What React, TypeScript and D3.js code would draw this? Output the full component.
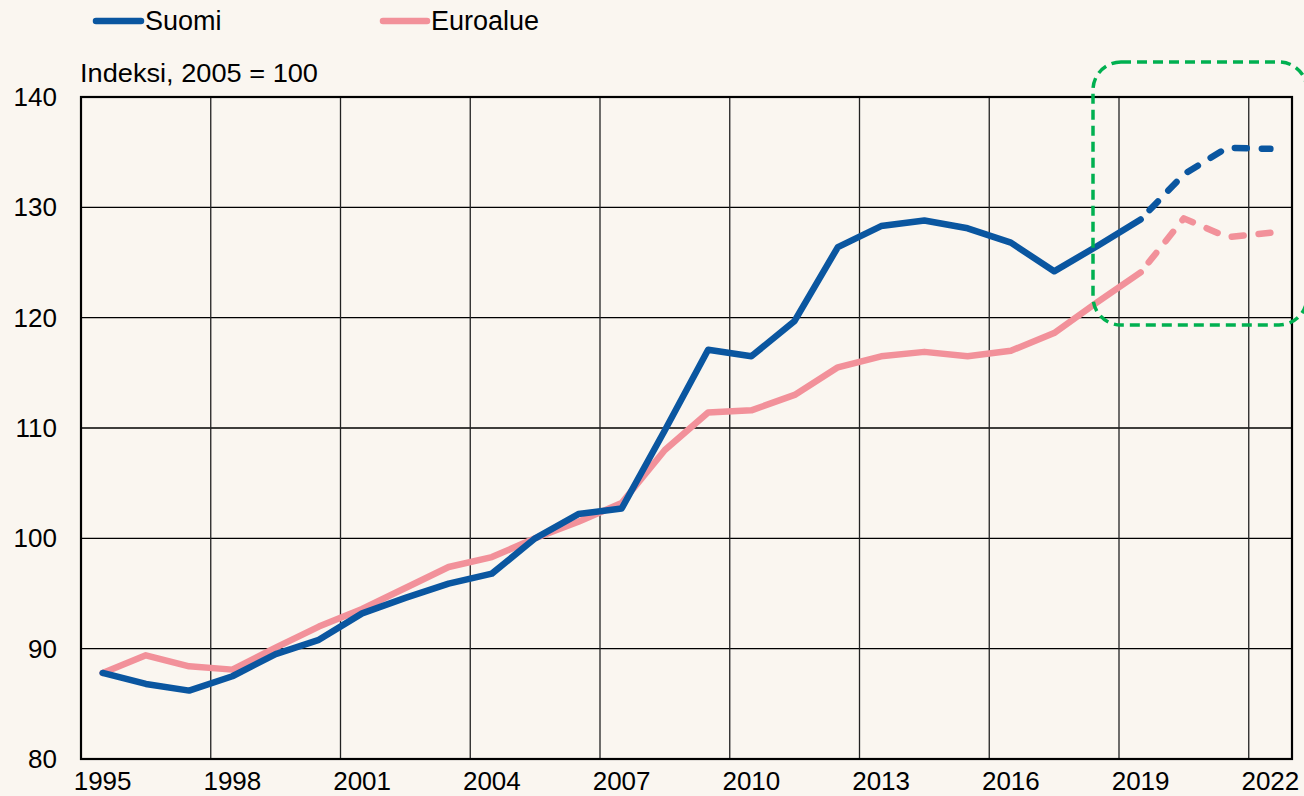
import React from "react";
import * as d3 from "d3";

const years: number[] = d3.range(1995, 2023);
const suomi: number[] = [
  87.8, 86.8, 86.2, 87.5, 89.5, 90.8, 93.2, 94.6, 95.9, 96.8,
  100.0, 102.2, 102.7, 109.8, 117.1, 116.5, 119.7, 126.4, 128.3, 128.8,
  128.1, 126.8, 124.2, 126.5, 128.9, 133.0, 135.4, 135.3,
];
const euroalue: number[] = [
  87.8, 89.4, 88.4, 88.1, 90.1, 92.0, 93.6, 95.5, 97.4, 98.3,
  100.0, 101.5, 103.2, 108.0, 111.4, 111.6, 113.0, 115.5, 116.5, 116.9,
  116.5, 117.0, 118.6, 121.4, 124.1, 129.0, 127.3, 127.7,
];
const forecastStart = 2019;
const yTicks: number[] = [80, 90, 100, 110, 120, 130, 140];
const xLabelYears: number[] = [1995, 1998, 2001, 2004, 2007, 2010, 2013, 2016, 2019, 2022];

const W = 1304;
const H = 796;
const left = 81;
const right = 1292;
const top = 97;
const bottom = 759;

const BLUE = "#0a56a0";
const PINK = "#f2919a";
const GREEN = "#00b050";
const BG = "#faf6f0";
const FONT = "'Liberation Sans', Arial, sans-serif";

export default function App() {
  const x = d3.scaleBand<number>().domain(years).range([left, right]).paddingInner(0).paddingOuter(0);
  const y = d3.scaleLinear().domain([80, 140]).range([bottom, top]);
  const cx = (yr: number) => (x(yr) as number) + x.bandwidth() / 2;

  const line = d3
    .line<[number, number]>()
    .x((d) => cx(d[0]))
    .y((d) => y(d[1]));

  const split = (vals: number[]) => {
    const pts: [number, number][] = years.map((yr, i) => [yr, vals[i]]);
    const solid = pts.filter((p) => p[0] <= forecastStart);
    const dashed = pts.filter((p) => p[0] >= forecastStart);
    return { solid: line(solid) || "", dashed: line(dashed) || "" };
  };
  const s = split(suomi);
  const e = split(euroalue);

  const gridXs = years.filter((_, i) => i > 0 && i % 3 === 0).map((yr) => x(yr) as number);

  return (
    <svg width={W} height={H} style={{ position: "absolute", left: 0, top: 0, display: "block" }}>
      <rect x={0} y={0} width={W} height={H} fill={BG} />
      {/* legend */}
      <line x1={96} x2={141} y1={21} y2={21} stroke={BLUE} strokeWidth={6.5} strokeLinecap="round" />
      <text x={145} y={30} fontFamily={FONT} fontSize={27} fill="#000">Suomi</text>
      <line x1={383} x2={427} y1={21} y2={21} stroke={PINK} strokeWidth={6.5} strokeLinecap="round" />
      <text x={431} y={30} fontFamily={FONT} fontSize={27} fill="#000">Euroalue</text>
      <text x={80} y={82} fontFamily={FONT} fontSize={26} fill="#000" textLength={238} lengthAdjust="spacingAndGlyphs">Indeksi, 2005 = 100</text>

      {/* gridlines */}
      {yTicks.map((t) => (
        <line key={"h" + t} x1={left} x2={right} y1={y(t)} y2={y(t)} stroke="#000" strokeWidth={1.4} />
      ))}
      {gridXs.map((gx, i) => (
        <line key={"v" + i} x1={gx} x2={gx} y1={top} y2={bottom} stroke="#222" strokeWidth={1.3} />
      ))}
      <rect x={left} y={top} width={right - left} height={bottom - top} fill="none" stroke="#000" strokeWidth={2.2} />

      {/* y tick labels */}
      {yTicks.map((t) => (
        <text key={"yl" + t} x={57} y={y(t) + 9} textAnchor="end" fontFamily={FONT} fontSize={26} fill="#000">
          {t}
        </text>
      ))}
      {/* x tick labels */}
      {xLabelYears.map((yr) => (
        <text key={"xl" + yr} x={cx(yr)} y={790} textAnchor="middle" fontFamily={FONT} fontSize={26} fill="#000">
          {yr}
        </text>
      ))}

      {/* series */}
      <path d={e.solid} fill="none" stroke={PINK} strokeWidth={6.5} strokeLinejoin="round" strokeLinecap="round" />
      <path d={s.solid} fill="none" stroke={BLUE} strokeWidth={6.5} strokeLinejoin="round" strokeLinecap="round" />
      <path d={e.dashed} fill="none" stroke={PINK} strokeWidth={6.5} strokeLinejoin="round" strokeLinecap="round" strokeDasharray="12 15" strokeDashoffset={-13} />
      <path d={s.dashed} fill="none" stroke={BLUE} strokeWidth={6.5} strokeLinejoin="round" strokeLinecap="round" strokeDasharray="12 15" strokeDashoffset={-13} />

      {/* forecast highlight */}
      <rect x={1093} y={62} width={214} height={263} rx={28} ry={28} fill="none" stroke={GREEN} strokeWidth={3.5} strokeDasharray="10 6" />
    </svg>
  );
}
